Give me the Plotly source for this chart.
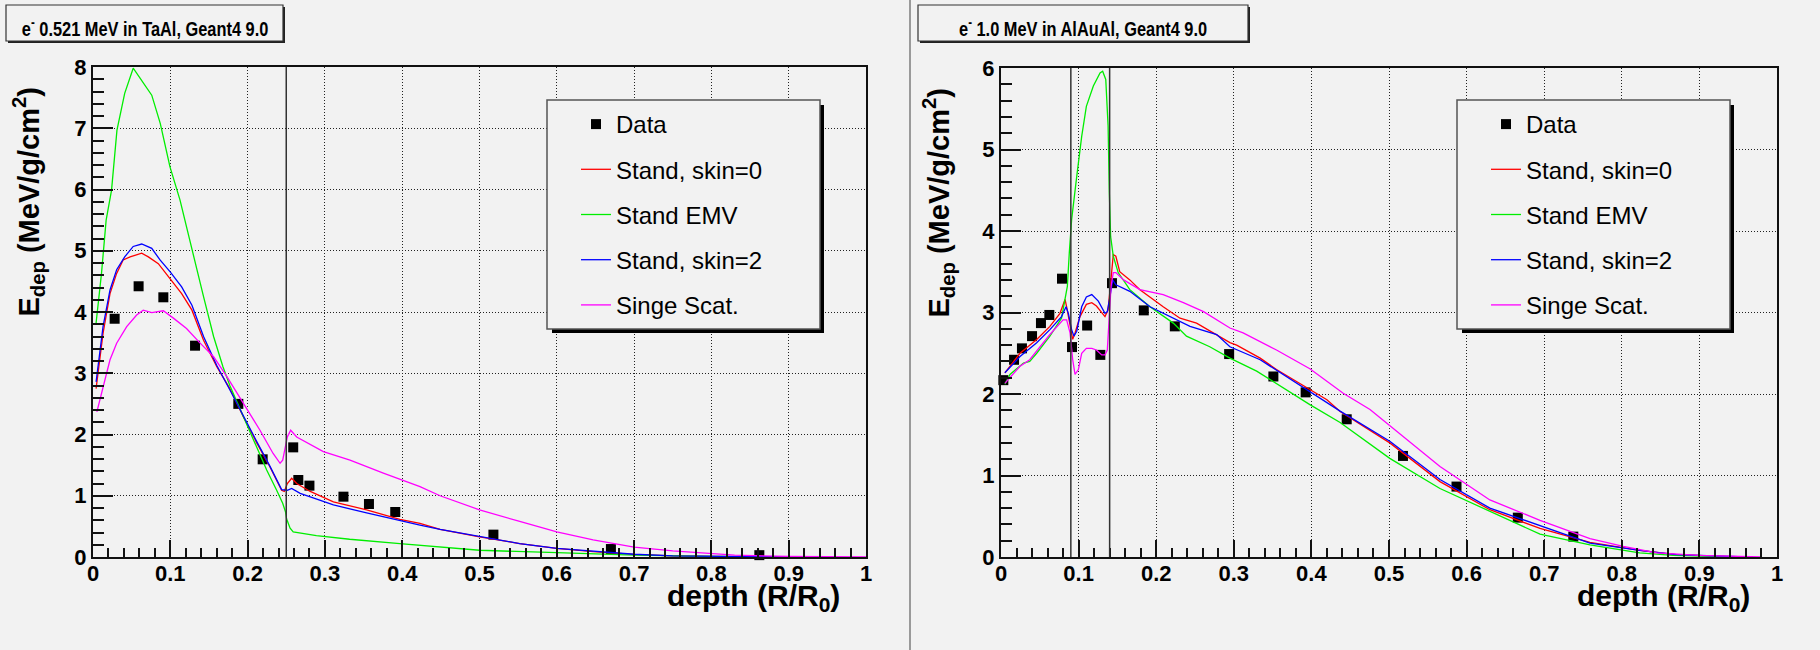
import plotly.graph_objects as go

# ---------------- data: e- 0.521 MeV in TaAl ----------------
left_data_x = [0.028, 0.059, 0.091, 0.132, 0.188, 0.2195, 0.259, 0.2656, 0.280, 0.324, 0.357, 0.391, 0.518, 0.670, 0.862]
left_data_y = [3.89, 4.42, 4.24, 3.45, 2.50, 1.595, 1.79, 1.257, 1.165, 0.985, 0.865, 0.735, 0.365, 0.13, 0.03]

left_skin0_x = [0.004, 0.013, 0.022, 0.0306, 0.039, 0.048, 0.063, 0.0716, 0.0845, 0.0996, 0.1147, 0.128, 0.143, 0.160,
                0.177, 0.1945, 0.212, 0.229, 0.244, 0.2475, 0.2497, 0.2514, 0.257, 0.2635, 0.281, 0.311, 0.354, 0.397,
                0.423, 0.449, 0.5, 0.552, 0.6, 0.647, 0.70, 0.75, 0.80, 0.85, 0.9]
left_skin0_y = [2.75, 3.65, 4.30, 4.63, 4.85, 4.90, 4.96, 4.90, 4.79, 4.55, 4.30, 4.03, 3.54, 3.11,
                2.75, 2.29, 1.86, 1.47, 1.09, 1.07, 1.15, 1.20, 1.285, 1.20, 1.07, 0.90, 0.77, 0.615,
                0.55, 0.45, 0.33, 0.22, 0.14, 0.087, 0.043, 0.02, 0.01, 0.005, 0.0]

left_emv_x = [0.004, 0.011, 0.017, 0.024, 0.031, 0.041, 0.052, 0.065, 0.076, 0.087, 0.0996, 0.1125, 0.128, 0.143,
              0.156, 0.168, 0.177, 0.186, 0.199, 0.212, 0.2247, 0.2376, 0.2454, 0.249, 0.2505, 0.255, 0.259, 0.289,
              0.332, 0.397, 0.449, 0.5, 0.6, 0.7, 0.8, 0.87]
left_emv_y = [3.82, 4.63, 5.50, 5.99, 6.97, 7.57, 7.98, 7.73, 7.54, 7.08, 6.37, 5.83, 5.01, 4.25,
              3.60, 3.11, 2.80, 2.54, 2.18, 1.80, 1.42, 1.09, 0.877, 0.74, 0.62, 0.47, 0.41, 0.35,
              0.29, 0.22, 0.17, 0.11, 0.07, 0.03, 0.01, 0.0]

left_skin2_x = [0.004, 0.013, 0.022, 0.0306, 0.041, 0.052, 0.063, 0.076, 0.0867, 0.0996, 0.1147, 0.128, 0.143, 0.160,
                0.177, 0.1945, 0.212, 0.229, 0.244, 0.2514, 0.257, 0.268, 0.311, 0.354, 0.397, 0.423, 0.449, 0.5,
                0.552, 0.6, 0.647, 0.70, 0.75, 0.80, 0.85, 0.92]
left_skin2_y = [2.86, 3.76, 4.36, 4.69, 4.90, 5.07, 5.11, 5.04, 4.85, 4.66, 4.41, 4.11, 3.60, 3.13,
                2.73, 2.30, 1.88, 1.48, 1.10, 1.09, 1.12, 1.04, 0.85, 0.72, 0.59, 0.52, 0.45, 0.33,
                0.22, 0.14, 0.09, 0.045, 0.02, 0.01, 0.005, 0.0]

left_single_x = [0.005, 0.013, 0.022, 0.0306, 0.0436, 0.0565, 0.065, 0.076, 0.091, 0.104, 0.121, 0.138, 0.156, 0.173,
                 0.1945, 0.216, 0.233, 0.242, 0.2454, 0.2484, 0.2514, 0.2557, 0.2635, 0.298, 0.3325, 0.3756, 0.423,
                 0.449, 0.5, 0.552, 0.6, 0.647, 0.70, 0.75, 0.80, 0.83, 0.9, 1.0]
left_single_y = [2.37, 2.75, 3.22, 3.49, 3.76, 3.95, 4.03, 3.99, 4.02, 3.90, 3.73, 3.50, 3.27, 2.95,
                 2.51, 2.07, 1.69, 1.53, 1.58, 1.75, 1.96, 2.07, 1.96, 1.72, 1.58, 1.37, 1.15,
                 1.0, 0.77, 0.58, 0.41, 0.28, 0.16, 0.10, 0.06, 0.03, 0.01, 0.0]

left_interfaces = [0.25]

# ---------------- data: e- 1.0 MeV in AlAuAl ----------------
right_data_x = [0.003, 0.0168, 0.027, 0.040, 0.0515, 0.0623, 0.0786, 0.0915, 0.111, 0.128, 0.143, 0.184, 0.224,
                0.294, 0.351, 0.3926, 0.4455, 0.518, 0.587, 0.666, 0.7375]
right_data_y = [2.17, 2.42, 2.56, 2.71, 2.87, 2.97, 3.415, 2.576, 2.84, 2.48, 3.36, 3.026, 2.83,
                2.49, 2.215, 2.02, 1.69, 1.24, 0.864, 0.483, 0.25]

right_skin0_x = [0.005, 0.0245, 0.046, 0.063, 0.076, 0.0825, 0.0846, 0.089, 0.0924, 0.0954, 0.1018, 0.110, 0.117,
                 0.123, 0.1298, 0.134, 0.138, 0.1405, 0.1426, 0.1447, 0.148, 0.153, 0.166, 0.179, 0.209, 0.2307,
                 0.252, 0.278, 0.295, 0.3037, 0.334, 0.355, 0.398, 0.42, 0.437, 0.501, 0.5657, 0.630, 0.6946,
                 0.759, 0.823, 0.87, 0.95]
right_skin0_y = [2.26, 2.50, 2.67, 2.83, 2.99, 3.16, 3.07, 2.83, 2.67, 2.75, 2.95, 3.10, 3.12,
                 3.08, 2.99, 2.95, 3.03, 3.32, 3.53, 3.71, 3.69, 3.50, 3.40, 3.28, 3.07, 2.93,
                 2.87, 2.73, 2.63, 2.60, 2.44, 2.30, 2.05, 1.93, 1.785, 1.40, 0.925, 0.58, 0.35,
                 0.18, 0.08, 0.03, 0.0]

right_emv_x = [0.005, 0.0116, 0.029, 0.037, 0.046, 0.063, 0.078, 0.0855, 0.088, 0.091, 0.0976, 0.104, 0.110,
               0.119, 0.1276, 0.131, 0.135, 0.138, 0.1396, 0.1413, 0.1447, 0.151, 0.166, 0.192, 0.222, 0.239,
               0.269, 0.295, 0.3295, 0.368, 0.398, 0.437, 0.501, 0.5657, 0.630, 0.6946, 0.759, 0.823, 0.866, 0.95]
right_emv_y = [2.12, 2.24, 2.38, 2.40, 2.50, 2.71, 2.93, 3.32, 3.73, 4.14, 4.67, 5.16, 5.53,
               5.78, 5.94, 5.96, 5.86, 5.29, 4.47, 3.93, 3.69, 3.49, 3.28, 3.07, 2.87, 2.71,
               2.58, 2.44, 2.28, 2.05, 1.87, 1.65, 1.21, 0.84, 0.56, 0.28, 0.15, 0.05, 0.02, 0.0]

right_skin2_x = [0.005, 0.0245, 0.046, 0.063, 0.078, 0.0838, 0.0868, 0.091, 0.094, 0.0976, 0.104, 0.110, 0.117,
                 0.1254, 0.134, 0.137, 0.1405, 0.144, 0.148, 0.166, 0.192, 0.218, 0.2436, 0.278, 0.295, 0.334,
                 0.398, 0.437, 0.501, 0.5657, 0.630, 0.6946, 0.759, 0.823, 0.87, 0.96]
right_skin2_y = [2.26, 2.46, 2.63, 2.79, 2.95, 3.07, 2.99, 2.79, 2.71, 2.77, 3.07, 3.19, 3.22,
                 3.14, 2.99, 3.01, 3.20, 3.40, 3.34, 3.26, 3.07, 2.95, 2.83, 2.73, 2.58, 2.42,
                 2.03, 1.79, 1.42, 0.95, 0.60, 0.38, 0.17, 0.08, 0.03, 0.0]

right_single_x = [0.005, 0.0245, 0.037, 0.063, 0.080, 0.0846, 0.089, 0.0924, 0.0954, 0.0997, 0.104, 0.110, 0.117,
                  0.123, 0.1298, 0.134, 0.137, 0.1396, 0.1418, 0.1447, 0.148, 0.158, 0.179, 0.209, 0.235, 0.261,
                  0.295, 0.312, 0.355, 0.398, 0.441, 0.4755, 0.501, 0.5657, 0.630, 0.6946, 0.759, 0.802, 0.845,
                  0.9, 0.98]
right_single_y = [2.13, 2.34, 2.42, 2.73, 2.91, 2.91, 2.75, 2.42, 2.24, 2.30, 2.50, 2.56, 2.56,
                  2.54, 2.48, 2.48, 2.54, 2.91, 3.32, 3.49, 3.49, 3.40, 3.28, 3.22, 3.12, 3.01,
                  2.81, 2.75, 2.54, 2.31, 2.01, 1.81, 1.61, 1.11, 0.70, 0.45, 0.225, 0.13, 0.05,
                  0.02, 0.0]

right_interfaces = [0.09, 0.14]

series_names = ["Data", "Stand, skin=0", "Stand EMV", "Stand, skin=2", "Singe Scat."]
series_colors = ["black", "#ff0000", "#00ee00", "#0000ff", "#ff00ff"]

# ---------------- page geometry (pixels) ----------------
W, H = 1820, 650
BG = "#f2f2f2"
FONT = "Liberation Sans, Arial, Helvetica, sans-serif"


def fx(px):
    return px / W


def fy(py):
    return 1 - py / H


fig = go.Figure()

panels = [
    dict(xa="x", ya="y", legend="legend", tag="L",
         data=(left_data_x, left_data_y),
         curves=[(left_skin0_x, left_skin0_y), (left_emv_x, left_emv_y),
                 (left_skin2_x, left_skin2_y), (left_single_x, left_single_y)],
         interfaces=left_interfaces),
    dict(xa="x2", ya="y2", legend="legend2", tag="R",
         data=(right_data_x, right_data_y),
         curves=[(right_skin0_x, right_skin0_y), (right_emv_x, right_emv_y),
                 (right_skin2_x, right_skin2_y), (right_single_x, right_single_y)],
         interfaces=right_interfaces),
]

for p in panels:
    fig.add_trace(go.Scatter(
        x=p["data"][0], y=p["data"][1], mode="markers", name=series_names[0],
        marker=dict(symbol="square", size=10, color="black"),
        xaxis=p["xa"], yaxis=p["ya"], legend=p["legend"],
        legendgroup=p["tag"] + "0", cliponaxis=False))
    for i, (cx, cy) in enumerate(p["curves"], start=1):
        fig.add_trace(go.Scatter(
            x=cx, y=cy, mode="lines", name=series_names[i],
            line=dict(color=series_colors[i], width=1.3),
            xaxis=p["xa"], yaxis=p["ya"], legend=p["legend"],
            legendgroup=p["tag"] + str(i)))
    for xv in p["interfaces"]:
        fig.add_shape(type="line", xref=p["xa"], yref=p["ya"] + " domain",
                      x0=xv, x1=xv, y0=0, y1=1, line=dict(color="#333333", width=1.5))

tickfont = dict(family=FONT, size=22, color="black", weight="bold")
common_x = dict(range=[0, 1], dtick=0.1, tick0=0, ticks="inside", ticklen=17, tickwidth=1.5,
                tickcolor="#111", showline=True, linecolor="#111", linewidth=2, mirror=True,
                showgrid=True, gridcolor="#222", gridwidth=1, griddash="1px,2px", zeroline=False,
                tickfont=tickfont, automargin=False, ticklabelstandoff=-4,
                minor=dict(dtick=0.02, ticks="inside", ticklen=9, tickwidth=1.5, tickcolor="#111",
                           showgrid=False))
common_y = dict(dtick=1, tick0=0, ticks="inside", ticklen=20, tickwidth=1.5,
                tickcolor="#111", showline=True, linecolor="#111", linewidth=2, mirror=True,
                showgrid=True, gridcolor="#222", gridwidth=1, griddash="1px,2px", zeroline=False,
                tickfont=tickfont, automargin=False,
                minor=dict(dtick=0.2, ticks="inside", ticklen=11, tickwidth=1.5, tickcolor="#111",
                           showgrid=False))

legend_common = dict(bgcolor="rgba(0,0,0,0)", borderwidth=0, xanchor="left", yanchor="top",
                     font=dict(family=FONT, size=24, color="black"), tracegroupgap=11,
                     traceorder="grouped")

fig.update_layout(
    width=W, height=H,
    margin=dict(l=0, r=0, t=0, b=0, autoexpand=False),
    paper_bgcolor=BG, plot_bgcolor=BG,
    xaxis=dict(domain=[fx(93), fx(866)], anchor="y", **common_x),
    yaxis=dict(domain=[fy(557), fy(67)], anchor="x", range=[0, 8], **common_y),
    xaxis2=dict(domain=[fx(1001), fx(1777)], anchor="y2", **common_x),
    yaxis2=dict(domain=[fy(557), fy(68)], anchor="x2", range=[0, 6], **common_y),
    legend=dict(x=fx(576), y=fy(102), **legend_common),
    legend2=dict(x=fx(1486), y=fy(102), **legend_common),
    showlegend=True,
)

# pad separator
fig.add_shape(type="line", xref="paper", yref="paper", x0=fx(910), x1=fx(910), y0=0, y1=1,
              line=dict(color="#9a9a9a", width=2))

# legend frames with drop shadow
for (x0, x1) in [(547, 820), (1457, 1730)]:
    fig.add_shape(type="rect", xref="paper", yref="paper", layer="above",
                  x0=fx(x0 + 5), x1=fx(x1 + 4), y0=fy(333), y1=fy(105),
                  fillcolor="black", line=dict(width=0))
    fig.add_shape(type="rect", xref="paper", yref="paper", layer="above",
                  x0=fx(x0), x1=fx(x1), y0=fy(329), y1=fy(100),
                  fillcolor=BG, line=dict(color="#555", width=1.5))

# title boxes
titles = [("e<sup>-</sup> 0.521 MeV in TaAl, Geant4 9.0", 6, 283),
          ("e<sup>-</sup> 1.0 MeV in AlAuAl, Geant4 9.0", 918, 1248)]
for text, x0, x1 in titles:
    fig.add_shape(type="rect", xref="paper", yref="paper", layer="above",
                  x0=fx(x0 + 2), x1=fx(x1 + 2), y0=fy(43), y1=fy(7),
                  fillcolor="#222", line=dict(width=0))
    fig.add_shape(type="rect", xref="paper", yref="paper", layer="above",
                  x0=fx(x0), x1=fx(x1), y0=fy(41), y1=fy(5),
                  fillcolor=BG, line=dict(color="#333", width=1.2))
    fig.add_annotation(text=text, xref="paper", yref="paper", x=fx((x0 + x1) / 2), y=fy(27),
                       xanchor="center", yanchor="middle", showarrow=False,
                       font=dict(family=FONT, size=21, color="black", weight="bold"))

# axis titles
for x_end, y_title_x in [(842, 28), (1752, 938)]:
    fig.add_annotation(text="depth (R/R<sub>0</sub>)", xref="paper", yref="paper",
                       x=fx(x_end), y=fy(577), xanchor="right", yanchor="top", showarrow=False,
                       font=dict(family=FONT, size=30, color="black", weight="bold"))
    fig.add_annotation(text="E<sub>dep</sub> (MeV/g/cm<sup>2</sup>)", xref="paper", yref="paper",
                       x=fx(y_title_x), y=fy(86), xanchor="center", yanchor="top",
                       textangle=-90, showarrow=False,
                       font=dict(family=FONT, size=29, color="black", weight="bold"))

# pad titles use a condensed rendering of the bold face
condense_titles = """
var gd = document.getElementById('{plot_id}');
function condenseTitles() {
  document.querySelectorAll('text.annotation-text').forEach(function (t) {
    if (t.textContent.indexOf('Geant4') >= 0) {
      t.style.transformBox = 'fill-box';
      t.style.transformOrigin = 'center';
      t.style.transform = 'scaleX(0.78)';
    }
  });
}
condenseTitles();
if (gd && gd.on) { gd.on('plotly_afterplot', condenseTitles); }
"""

fig.write_html("out.html", post_script=condense_titles)
